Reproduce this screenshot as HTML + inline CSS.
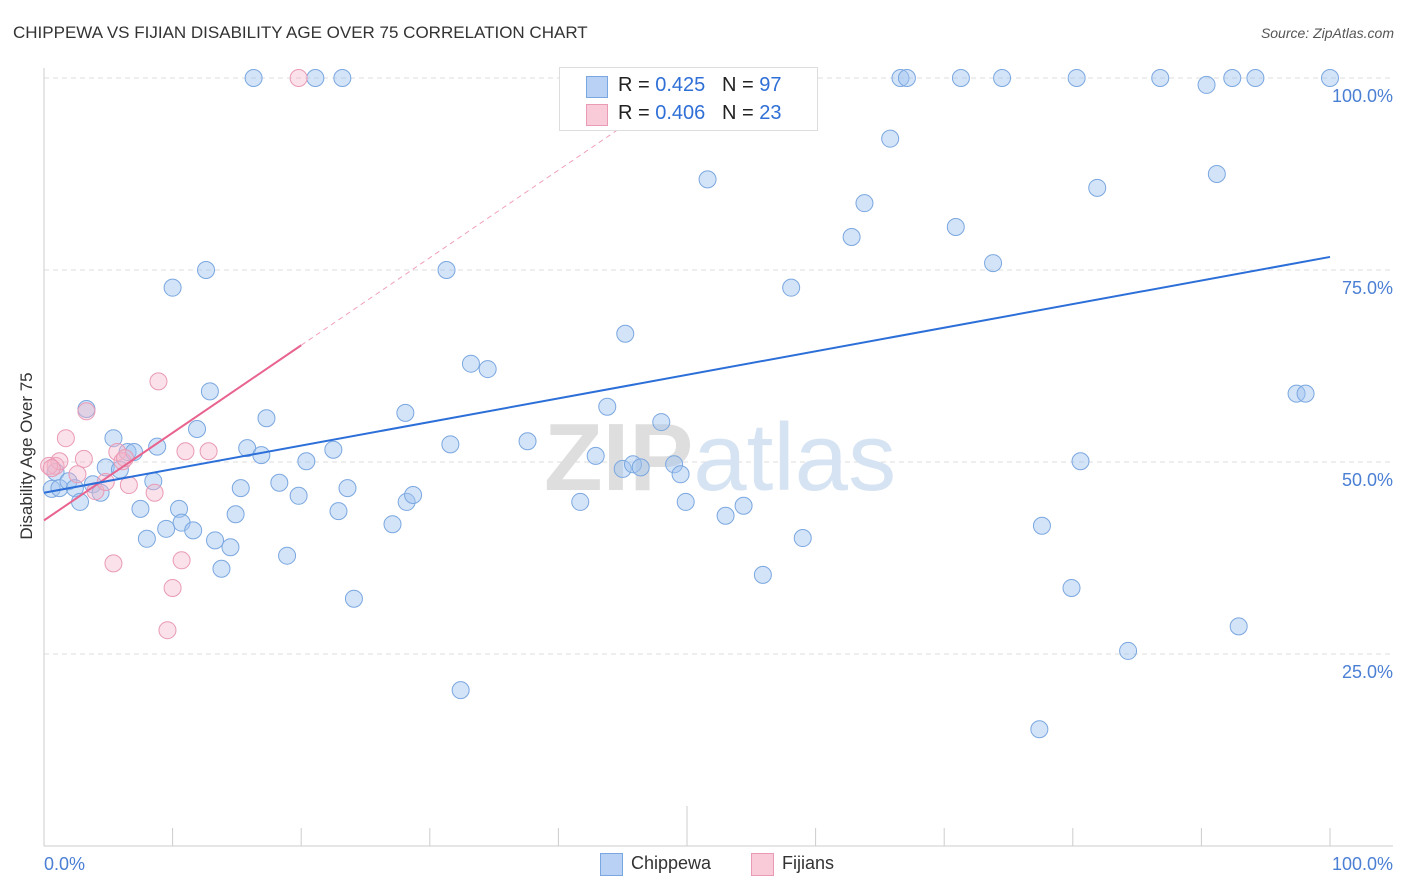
<!DOCTYPE html>
<html><head><meta charset="utf-8"><style>
body{margin:0;background:#fff;font-family:"Liberation Sans",sans-serif;}
#wrap{position:relative;width:1406px;height:892px;overflow:hidden;}
.t{position:absolute;white-space:nowrap;}
</style></head><body>
<div id="wrap">
<div class="t" style="left:13px;top:23px;font-size:17px;color:#333;">CHIPPEWA VS FIJIAN DISABILITY AGE OVER 75 CORRELATION CHART</div>
<div class="t" style="right:12px;top:25px;font-size:14px;color:#555;font-style:italic;">Source: ZipAtlas.com</div>
<div class="t" style="left:27px;top:456px;font-size:17px;color:#333;transform:translate(-50%,-50%) rotate(-90deg);">Disability Age Over 75</div>
<svg id="svg" width="1406" height="892" style="position:absolute;left:0;top:0"></svg>
<div style="position:absolute;left:559px;top:67px;width:257px;height:62px;border:1px solid #ddd;background:#fff;font-size:20px;">
 <div style="position:absolute;left:26px;top:8px;width:20px;height:20px;background:#b8d1f5;border:1px solid #7aa7e0"></div>
 <div class="t" style="left:58px;top:6px;color:#222">R = <span style="color:#2f6fd6">0.425</span> &nbsp;&nbsp;N = <span style="color:#2f6fd6">97</span></div>
 <div style="position:absolute;left:26px;top:36px;width:20px;height:20px;background:#f9cbd9;border:1px solid #e99ab5"></div>
 <div class="t" style="left:58px;top:34px;color:#222">R = <span style="color:#2f6fd6">0.406</span> &nbsp;&nbsp;N = <span style="color:#2f6fd6">23</span></div>
</div>
<div style="position:absolute;left:600px;top:853px;width:21px;height:21px;background:#b8d1f5;border:1px solid #7aa7e0"></div>
<div class="t" style="left:631px;top:853px;font-size:18px;color:#333">Chippewa</div>
<div style="position:absolute;left:751px;top:853px;width:21px;height:21px;background:#f9cbd9;border:1px solid #e99ab5"></div>
<div class="t" style="left:782px;top:853px;font-size:18px;color:#333">Fijians</div>
</div>
<script>
const yTicks=[25,50,75,100];
const yTickLabels=["25.0%","50.0%","75.0%","100.0%"];
const xTickLabels=["0.0%","100.0%"];
const chipX=[16.3,21.1,23.2,66.6,67.1,71.3,74.5,80.3,86.8,90.4,92.4,94.2,100,65.8,51.6,81.9,91.2,63.8,62.8,70.9,73.8,58.1,12.6,10.0,31.3,45.2,33.2,34.5,97.4,98.1,12.9,3.3,17.3,28.1,43.8,5.4,8.8,11.9,15.8,16.9,22.5,31.6,37.6,48.0,20.4,42.9,45.0,45.8,46.4,49.0,49.5,80.6,6.5,7.0,4.8,5.9,0.9,0.6,1.2,1.9,2.4,2.8,3.8,4.4,8.5,7.5,10.5,10.7,9.5,11.6,8.0,13.3,14.5,14.9,15.3,18.3,19.8,23.6,22.9,27.1,28.2,28.7,41.7,49.9,53.0,54.4,59.0,77.6,13.8,18.9,55.9,79.9,24.1,92.9,84.3,32.4,77.4];
const chipY=[100,100,100,100,100,100,100,100,100,99.1,100,100,100,92.1,86.8,85.7,87.5,83.7,79.3,80.6,75.9,72.7,75.0,72.7,75.0,66.7,62.8,62.1,58.9,58.9,59.2,56.9,55.7,56.4,57.2,53.1,52.0,54.3,51.8,50.9,51.6,52.3,52.7,55.2,50.1,50.8,49.1,49.7,49.3,49.7,48.4,50.1,51.3,51.3,49.3,49.0,48.7,46.5,46.6,47.5,46.6,44.8,47.1,46.0,47.5,43.9,43.9,42.1,41.3,41.1,40.0,39.8,38.9,43.2,46.6,47.3,45.6,46.6,43.6,41.9,44.8,45.7,44.8,44.8,43.0,44.3,40.1,41.7,36.1,37.8,35.3,33.6,32.2,28.6,25.4,20.3,15.2];
const fijX=[19.8,0.9,1.7,1.2,2.6,3.1,3.3,4.0,4.8,5.7,6.1,6.6,8.6,8.9,11.0,12.8,5.4,10.0,9.6,10.7,0.4,0.6,6.3];
const fijY=[100,49.5,53.1,50.1,48.4,50.4,56.6,46.2,47.4,51.3,50.1,47.0,46.0,60.5,51.4,51.4,36.8,33.6,28.1,37.2,49.5,49.2,50.5];
const chipTrend=[46.0,76.7]; // y at x=0 and x=100
const fijTrend=[42.4,65.2];  // y at x=0 and x=20
const fijTrendEnd=20;
const X=v=>44+v*12.86, Y=v=>846-v*7.68;
const svg=document.getElementById('svg');const NS='http://www.w3.org/2000/svg';
function mk(t,a){const e=document.createElementNS(NS,t);for(const k in a)e.setAttribute(k,a[k]);svg.appendChild(e);return e;}
yTicks.forEach((v,i)=>{
 const g=mk('line',{x1:44,x2:1393,y1:Y(v),y2:Y(v),stroke:'#ddd','stroke-dasharray':'5,4'});
 
 
 const t=mk('text',{x:1393,y:Y(v)+24,'text-anchor':'end','font-size':18,fill:'#4a7fd4','font-family':'Liberation Sans'});
 t.textContent=yTickLabels[i];
 
 
});
const ya=mk('line',{x1:44,x2:44,y1:68,y2:846,stroke:'#ccc'});


const xa=mk('line',{x1:44,x2:1393,y1:846,y2:846,stroke:'#ccc'});


for(let i=1;i<=10;i++){const k=mk('line',{x1:X(i*10),x2:X(i*10),y1:i==5?806:828,y2:846,stroke:'#ccc'});
 
 }
[[0,'start',44],[1,'end',1393]].forEach(([i,a,x])=>{const t=mk('text',{x:x,y:870,'text-anchor':a,'font-size':18,fill:'#4a7fd4','font-family':'Liberation Sans'});t.textContent=xTickLabels[i];
 
 });
const wm=mk('text',{x:720,y:490,'text-anchor':'middle','font-size':96,'font-family':'Liberation Sans',fill:'#e4e4e4'});
wm.innerHTML='<tspan font-weight="bold" fill="#dedede">ZIP</tspan><tspan fill="#d6e3f3">atlas</tspan>';


chipX.forEach((x,i)=>{const c=mk('circle',{cx:X(x),cy:Y(chipY[i]),r:8.5,fill:'rgba(160,195,240,0.45)',stroke:'#7aa7e0','stroke-width':1});
 
 });
fijX.forEach((x,i)=>{const c=mk('circle',{cx:X(x),cy:Y(fijY[i]),r:8.5,fill:'rgba(245,180,200,0.4)',stroke:'#e99ab5','stroke-width':1});
 
 });
const slope=(fijTrend[1]-fijTrend[0])/fijTrendEnd;
const xTop=(100-fijTrend[0])/slope;
const fd=mk('line',{x1:X(fijTrendEnd),y1:Y(fijTrend[1]),x2:X(xTop),y2:Y(100),stroke:'#f0a0b8','stroke-width':1,'stroke-dasharray':'5,4'});


const fl=mk('line',{x1:X(0),y1:Y(fijTrend[0]),x2:X(fijTrendEnd),y2:Y(fijTrend[1]),stroke:'#e8648e','stroke-width':2});


const cl=mk('line',{x1:X(0),y1:Y(chipTrend[0]),x2:X(100),y2:Y(chipTrend[1]),stroke:'#2c6fd8','stroke-width':2});


</script>
</body></html>
